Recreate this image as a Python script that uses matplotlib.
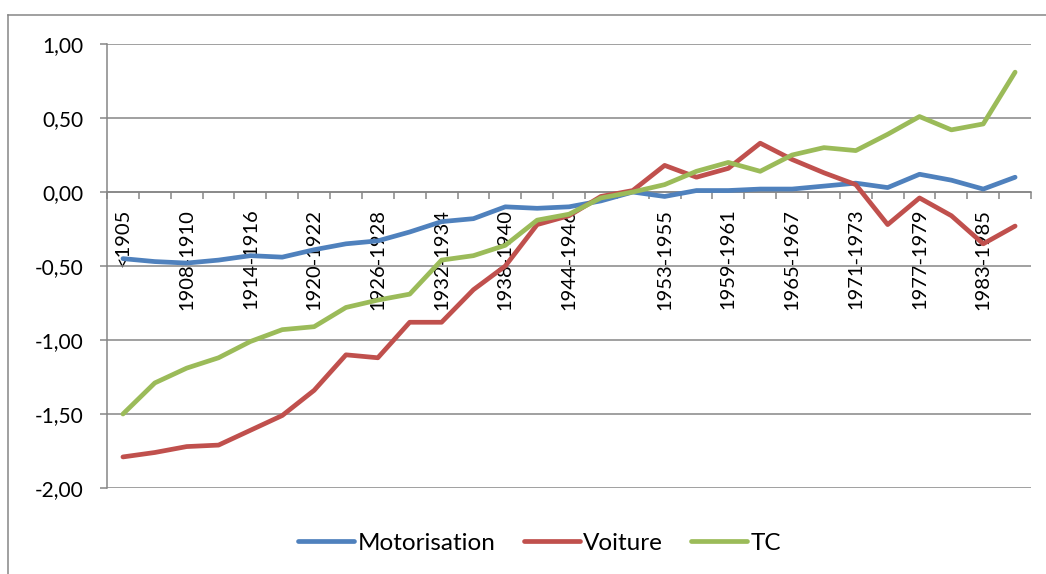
import matplotlib
matplotlib.use("Agg")
import matplotlib.pyplot as plt
import numpy as np
from matplotlib.lines import Line2D
from matplotlib.ticker import FuncFormatter

# ── Data ──────────────────────────────────────────────────────────────────────
periods = [
    "<1905", "1905-1907", "1908-1910", "1911-1913", "1914-1916", "1917-1919",
    "1920-1922", "1923-1925", "1926-1928", "1929-1931", "1932-1934",
    "1935-1937", "1938-1940", "1941-1943", "1944-1946", "1947-1949",
    "1950-1952", "1953-1955", "1956-1958", "1959-1961", "1962-1964",
    "1965-1967", "1968-1970", "1971-1973", "1974-1976", "1977-1979",
    "1980-1982", "1983-1985", "1986-1988",
]
# only these periods get a label on the axis
labelled = [0, 2, 4, 6, 8, 10, 12, 14, 17, 19, 21, 23, 25, 27]

motorisation = [-0.45, -0.47, -0.48, -0.46, -0.43, -0.44, -0.39, -0.35, -0.33,
                -0.27, -0.20, -0.18, -0.10, -0.11, -0.10, -0.06, 0.00, -0.03,
                0.01, 0.01, 0.02, 0.02, 0.04, 0.06, 0.03, 0.12, 0.08, 0.02,
                0.10]
voiture = [-1.79, -1.76, -1.72, -1.71, -1.61, -1.51, -1.34, -1.10, -1.12,
           -0.88, -0.88, -0.66, -0.50, -0.22, -0.16, -0.03, 0.01, 0.18, 0.10,
           0.16, 0.33, 0.22, 0.13, 0.05, -0.22, -0.04, -0.16, -0.35, -0.23]
tc = [-1.50, -1.29, -1.19, -1.12, -1.01, -0.93, -0.91, -0.78, -0.73, -0.69,
      -0.46, -0.43, -0.36, -0.19, -0.15, -0.04, 0.00, 0.05, 0.14, 0.20, 0.14,
      0.25, 0.30, 0.28, 0.39, 0.51, 0.42, 0.46, 0.81]

series = [
    ("Motorisation", motorisation, "#4F81BD"),
    ("Voiture",      voiture,      "#C0504D"),
    ("TC",           tc,           "#9BBB59"),
]

# ── Figure ────────────────────────────────────────────────────────────────────
plt.rcParams["font.family"] = ["Lato", "DejaVu Sans"]
grid_col = "#868686"

fig = plt.figure(figsize=(10.46, 5.74), dpi=100)
ax = fig.add_axes([0.1023, 0.1498, 0.8834, 0.7735])

x = np.arange(len(periods))
for name, vals, col in series:
    ax.plot(x, vals, color=col, lw=3.4, solid_joinstyle="round",
            solid_capstyle="round", label=name, zorder=3)

ax.set_xlim(-0.5, len(periods) - 0.5)
ax.set_ylim(-2.0, 1.0)
ax.set_yticks(np.arange(-2.0, 1.01, 0.5))
ax.yaxis.set_major_formatter(FuncFormatter(lambda v, _: f"{v:.2f}".replace(".", ",")))
ax.grid(axis="y", color=grid_col, lw=1.1, zorder=0)
ax.set_axisbelow(True)

# category axis crosses at zero, ticks between categories
ax.spines["bottom"].set_position(("data", 0))
for s in ("top", "right"):
    ax.spines[s].set_visible(False)
for s in ("left", "bottom"):
    ax.spines[s].set_color(grid_col)
    ax.spines[s].set_linewidth(1.1)

ax.set_xticks(np.arange(-0.5, len(periods)), labels=[])
ax.set_xticks(labelled, labels=[periods[i] for i in labelled], minor=True)
ax.tick_params(axis="x", which="major", direction="out", length=5,
               width=1.1, color=grid_col)
ax.tick_params(axis="x", which="minor", length=0, pad=12, labelsize=14.5,
               labelrotation=90)
ax.tick_params(axis="y", direction="out", length=5, width=1.1,
               color=grid_col, labelsize=15, pad=12)
for lab in ax.get_xticklabels(minor=True):
    lab.set_verticalalignment("top")

handles = [Line2D([], [], color=c, lw=3.4, solid_capstyle="round")
           for _, _, c in series]
fig.legend(handles, [n for n, _, _ in series], loc="center",
           bbox_to_anchor=(0.516, 0.054), ncol=3, frameon=False,
           fontsize=17.5, handlelength=2.3, handletextpad=0.15,
           columnspacing=1.15)

# chart area border (left and top edges)
fig.add_artist(Line2D([8 / 1046, 8 / 1046], [0, 1 - 15 / 574],
                      color=grid_col, lw=1.1, transform=fig.transFigure))
fig.add_artist(Line2D([8 / 1046, 1], [1 - 15 / 574, 1 - 15 / 574],
                      color=grid_col, lw=1.1, transform=fig.transFigure))

fig.savefig("out.png", dpi=100)
